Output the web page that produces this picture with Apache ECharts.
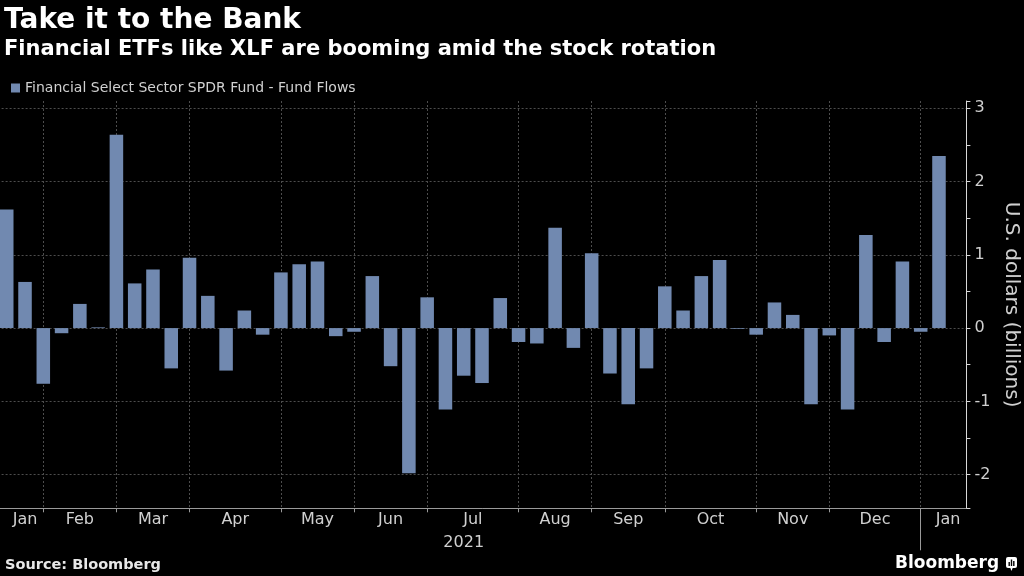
<!DOCTYPE html>
<html>
<head>
<meta charset="utf-8">
<script src="https://cdn.jsdelivr.net/npm/echarts@6/dist/echarts.min.js"></script>
<style>
html,body{margin:0;padding:0;background:#000;}
#chart{width:1024px;height:576px;}
</style>
</head>
<body>
<div id="chart"></div>
<script>
// Weekly fund-flow dates (Fridays); the last week has no data yet
const weeks = [
  '2021-01-22','2021-01-29',
  '2021-02-05','2021-02-12','2021-02-19','2021-02-26',
  '2021-03-05','2021-03-12','2021-03-19','2021-03-26',
  '2021-04-02','2021-04-09','2021-04-16','2021-04-23','2021-04-30',
  '2021-05-07','2021-05-14','2021-05-21','2021-05-28',
  '2021-06-04','2021-06-11','2021-06-18','2021-06-25',
  '2021-07-02','2021-07-09','2021-07-16','2021-07-23','2021-07-30',
  '2021-08-06','2021-08-13','2021-08-20','2021-08-27',
  '2021-09-03','2021-09-10','2021-09-17','2021-09-24',
  '2021-10-01','2021-10-08','2021-10-15','2021-10-22','2021-10-29',
  '2021-11-05','2021-11-12','2021-11-19','2021-11-26',
  '2021-12-03','2021-12-10','2021-12-17','2021-12-24','2021-12-31',
  '2022-01-07','2022-01-14','2022-01-21'
];

// Fund flows, U.S. dollars (billions)
const flows = [
  1.62, 0.63,
  -0.76, -0.07, 0.33, 0.01,
  2.64, 0.61, 0.80, -0.55,
  0.96, 0.44, -0.58, 0.24, -0.09,
  0.76, 0.87, 0.91, -0.11,
  -0.05, 0.71, -0.52, -1.98,
  0.42, -1.11, -0.65, -0.75, 0.41,
  -0.19, -0.21, 1.37, -0.27,
  1.02, -0.62, -1.04, -0.55,
  0.57, 0.24, 0.71, 0.93, -0.01,
  -0.09, 0.35, 0.18, -1.04,
  -0.10, -1.11, 1.27, -0.19, 0.91,
  -0.05, 2.35
];

const monthNames = ['Jan','Feb','Mar','Apr','May','Jun','Jul','Aug','Sep','Oct','Nov','Dec'];
const seriesName = 'Financial Select Sector SPDR Fund - Fund Flows';
const titleText = 'Take it to the Bank';
const subtitleText = 'Financial ETFs like XLF are booming amid the stock rotation';
const yAxisName = 'U.S. dollars (billions)';
const sourceText = 'Source: Bloomberg';

// Month / year boundaries derived from the week dates
const monthStarts = [];
const yearStarts = [];
weeks.forEach((d, i) => {
  if (i === 0 || d.slice(0, 7) !== weeks[i - 1].slice(0, 7)) monthStarts.push(i);
  if (i === 0 || d.slice(0, 4) !== weeks[i - 1].slice(0, 4)) yearStarts.push(i);
});
const monthLabelPos = monthStarts.map((s, k) =>
  (s + (k + 1 < monthStarts.length ? monthStarts[k + 1] : weeks.length)) / 2);
const monthLabelText = monthStarts.map(s => monthNames[+weeks[s].slice(5, 7) - 1]);
const monthLines = monthStarts.filter(i => i > 0);
const yearLines = yearStarts.filter(i => i > 0);
const yearSpans = yearStarts.map((s, k) => {
  const e = k + 1 < yearStarts.length ? yearStarts[k + 1] : weeks.length;
  return { pos: (s + e) / 2, len: e - s, text: weeks[s].slice(0, 4) };
}).filter(y => y.len > 8);

const FONT = '"DejaVu Sans", sans-serif';
const gridColor = '#4d4d4d';
const axisGray = '#9a9a9a';
const labelColor = '#d0d0d0';
const xMin = -0.5, xMax = weeks.length - 0.5;

const chart = echarts.init(document.getElementById('chart'));
chart.setOption({
  backgroundColor: '#000',
  animation: false,
  textStyle: { fontFamily: FONT },
  legend: {
    data: [seriesName],
    left: 6, top: 76,
    icon: 'rect', itemWidth: 9, itemHeight: 9, itemGap: 10,
    textStyle: { color: labelColor, fontSize: 14, fontFamily: FONT }
  },
  grid: { left: -2.4, right: 57.6, top: 101, bottom: 67.7, containLabel: false, outerBoundsMode: 'none' },
  xAxis: [
    {
      type: 'category', data: weeks, position: 'bottom',
      axisLine: { show: true, onZero: false, lineStyle: { color: axisGray, width: 1 } },
      axisTick: { show: false }, axisLabel: { show: false }, splitLine: { show: false }
    },
    {
      type: 'value', position: 'bottom', min: xMin, max: xMax,
      axisLine: { show: false, onZero: false },
      axisTick: { show: true, customValues: monthLines, length: 4, lineStyle: { color: axisGray } },
      axisLabel: {
        show: true, customValues: monthLabelPos, color: labelColor, fontSize: 16, margin: 4,
        fontFamily: FONT,
        formatter: v => {
          const k = monthLabelPos.findIndex(p => Math.abs(p - v) < 1e-6);
          return k >= 0 ? monthLabelText[k] : '';
        }
      },
      splitLine: { show: true, lineStyle: { color: gridColor, type: [2, 2], width: 1 } }
    },
    {
      type: 'value', position: 'bottom', min: xMin, max: xMax,
      axisLine: { show: false, onZero: false },
      axisTick: { show: true, customValues: yearLines, length: 42, lineStyle: { color: axisGray } },
      axisLabel: {
        show: true, customValues: yearSpans.map(y => y.pos), color: labelColor, fontSize: 16, margin: 27,
        fontFamily: FONT,
        formatter: v => {
          const y = yearSpans.find(s => Math.abs(s.pos - v) < 1e-6);
          return y ? y.text : '';
        }
      },
      splitLine: { show: false }
    }
  ],
  yAxis: {
    type: 'value', position: 'right', min: -2.46, max: 3.1,
    name: yAxisName, nameLocation: 'middle', nameRotate: -90, nameGap: 34,
    nameTextStyle: { color: labelColor, fontSize: 20, fontFamily: FONT },
    axisLine: { show: true, onZero: false, lineStyle: { color: '#d8d8d8', width: 1 } },
    axisTick: { show: true, length: 4, lineStyle: { color: '#d8d8d8' } },
    minorTick: { show: true, splitNumber: 2, length: 4, lineStyle: { color: '#d8d8d8' } },
    axisLabel: { color: labelColor, fontSize: 16, margin: 8, showMinLabel: false, showMaxLabel: false, fontFamily: FONT },
    splitLine: { show: true, showMinLine: false, showMaxLine: false, lineStyle: { color: gridColor, type: [2, 2], width: 1 } }
  },
  series: [{
    type: 'bar', name: seriesName, data: flows, xAxisIndex: 0,
    barCategoryGap: '26%',
    itemStyle: { color: '#7189b0' }
  }],
  graphic: [
    { type: 'text', x: 4, y: 21, style: { text: titleText, fill: '#fff', fontSize: 28, fontWeight: 'bold', fontFamily: FONT, verticalAlign: 'middle' } },
    { type: 'text', x: 4, y: 50, style: { text: subtitleText, fill: '#fff', fontSize: 21, fontWeight: 'bold', fontFamily: FONT, verticalAlign: 'middle' } },
    { type: 'text', x: 5, y: 565, style: { text: sourceText, fill: '#e8e8e8', fontSize: 14.5, fontWeight: 'bold', fontFamily: FONT, verticalAlign: 'middle' } },
    { type: 'text', x: 895, y: 564, style: { text: 'Bloomberg', fill: '#fff', fontSize: 17, fontWeight: 'bold', fontFamily: FONT, verticalAlign: 'middle' } },
    {
      type: 'group', x: 1006, y: 557,
      children: [
        { type: 'rect', shape: { x: 0, y: 0, width: 11, height: 11, r: 2 }, style: { fill: '#fff' } },
        { type: 'polygon', shape: { points: [[4, 10], [7, 10], [5.5, 14]] }, style: { fill: '#fff' } },
        { type: 'rect', shape: { x: 2.5, y: 5, width: 1.4, height: 4 }, style: { fill: '#000' } },
        { type: 'rect', shape: { x: 4.8, y: 2.5, width: 1.4, height: 6.5 }, style: { fill: '#000' } },
        { type: 'rect', shape: { x: 7.1, y: 4, width: 1.4, height: 5 }, style: { fill: '#000' } }
      ]
    }
  ]
});
</script>
</body>
</html>
